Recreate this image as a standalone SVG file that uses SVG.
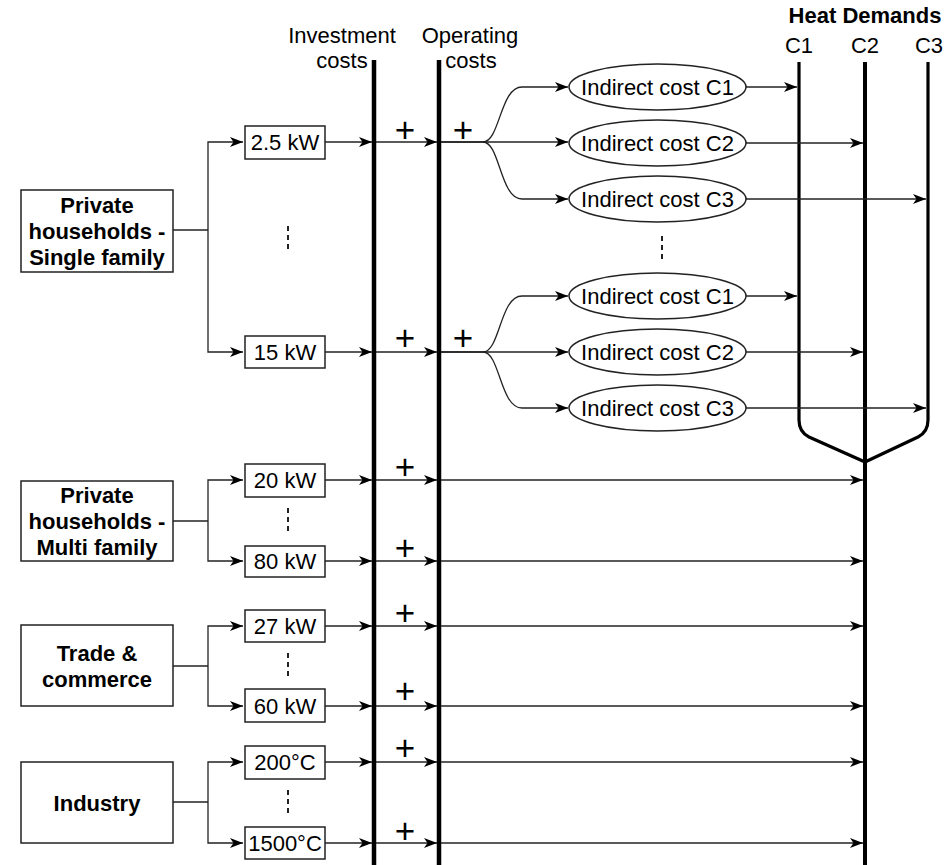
<svg xmlns="http://www.w3.org/2000/svg" width="948" height="865" viewBox="0 0 948 865">
<style>
text{font-family:"Liberation Sans",Arial,sans-serif;font-size:22px;fill:#000;text-anchor:middle}
.b{font-weight:bold}
.plus{font-size:35px}
.box{fill:#fff;stroke:#222;stroke-width:1.5}
.ell{fill:#fff;stroke:#222;stroke-width:1.5}
.c{fill:none;stroke:#222;stroke-width:1.3}
.bar{fill:none;stroke:#000;stroke-width:4.5}
.hbar{fill:none;stroke:#000;stroke-width:3.2;stroke-linejoin:round}
.dots{fill:none;stroke:#222;stroke-width:2;stroke-dasharray:5 4}
</style>
<defs>
<marker id="arr" markerWidth="13" markerHeight="10" refX="13" refY="5" orient="auto" markerUnits="userSpaceOnUse"><path d="M0,0 L13,5 L0,10 L3.5,5 z" fill="#000"/></marker>
</defs>

<g id="bars">
<line class="bar" x1="374" y1="60" x2="374" y2="865"/>
<line class="bar" x1="439" y1="60" x2="439" y2="865"/>
<path class="hbar" d="M799 62 L799 420 Q799 432 809 437 L865 462"/>
<path class="hbar" d="M928 62 L928 420 Q928 432 918 437 L865 462"/>
<line class="bar" x1="865" y1="62" x2="865" y2="865" style="stroke-width:4"/>
</g>

<g id="labels">
<text x="342" y="43">Investment</text>
<text x="342" y="68">costs</text>
<text x="470" y="43">Operating</text>
<text x="471" y="68">costs</text>
<text class="b" x="865" y="23">Heat Demands</text>
<text x="799" y="53">C1</text>
<text x="865" y="53">C2</text>
<text x="929" y="53">C3</text>
</g>

<g id="connectors">
<!-- single family -->
<path class="c" d="M173 230 L208 230"/>
<path class="c" d="M208 230 L208 142 L243 142" marker-end="url(#arr)"/>
<path class="c" d="M208 230 L208 352 L243 352" marker-end="url(#arr)"/>
<!-- multi family -->
<path class="c" d="M173 521 L208 521"/>
<path class="c" d="M208 521 L208 480 L243 480" marker-end="url(#arr)"/>
<path class="c" d="M208 521 L208 561 L243 561" marker-end="url(#arr)"/>
<!-- trade -->
<path class="c" d="M173 666 L208 666"/>
<path class="c" d="M208 666 L208 626 L243 626" marker-end="url(#arr)"/>
<path class="c" d="M208 666 L208 706 L243 706" marker-end="url(#arr)"/>
<!-- industry -->
<path class="c" d="M173 802 L208 802"/>
<path class="c" d="M208 802 L208 762 L243 762" marker-end="url(#arr)"/>
<path class="c" d="M208 802 L208 843 L243 843" marker-end="url(#arr)"/>

<!-- boxes to investment and operating -->
<path class="c" d="M325 142 L372 142" marker-end="url(#arr)"/>
<path class="c" d="M376 142 L437 142" marker-end="url(#arr)"/>
<path class="c" d="M325 352 L372 352" marker-end="url(#arr)"/>
<path class="c" d="M376 352 L437 352" marker-end="url(#arr)"/>
<path class="c" d="M325 480 L372 480" marker-end="url(#arr)"/>
<path class="c" d="M376 480 L437 480" marker-end="url(#arr)"/>
<path class="c" d="M325 561 L372 561" marker-end="url(#arr)"/>
<path class="c" d="M376 561 L437 561" marker-end="url(#arr)"/>
<path class="c" d="M325 626 L372 626" marker-end="url(#arr)"/>
<path class="c" d="M376 626 L437 626" marker-end="url(#arr)"/>
<path class="c" d="M325 706 L372 706" marker-end="url(#arr)"/>
<path class="c" d="M376 706 L437 706" marker-end="url(#arr)"/>
<path class="c" d="M325 762 L372 762" marker-end="url(#arr)"/>
<path class="c" d="M376 762 L437 762" marker-end="url(#arr)"/>
<path class="c" d="M325 843 L372 843" marker-end="url(#arr)"/>
<path class="c" d="M376 843 L437 843" marker-end="url(#arr)"/>

<!-- operating to C2 -->
<path class="c" d="M441 480 L863 480" marker-end="url(#arr)"/>
<path class="c" d="M441 561 L863 561" marker-end="url(#arr)"/>
<path class="c" d="M441 626 L863 626" marker-end="url(#arr)"/>
<path class="c" d="M441 706 L863 706" marker-end="url(#arr)"/>
<path class="c" d="M441 762 L863 762" marker-end="url(#arr)"/>
<path class="c" d="M441 843 L863 843" marker-end="url(#arr)"/>

<!-- top fan -->
<path class="c" d="M441 142 L483 142 C500 142 500 87 522 87 L568 87" marker-end="url(#arr)"/>
<path class="c" d="M441 142 L568 142" marker-end="url(#arr)"/>
<path class="c" d="M483 142 C500 142 500 199 522 199 L568 199" marker-end="url(#arr)"/>
<path class="c" d="M746 87 L797 87" marker-end="url(#arr)"/>
<path class="c" d="M746 143 L863 143" marker-end="url(#arr)"/>
<path class="c" d="M746 199 L926 199" marker-end="url(#arr)"/>
<!-- bottom fan -->
<path class="c" d="M441 352 L483 352 C500 352 500 296 522 296 L568 296" marker-end="url(#arr)"/>
<path class="c" d="M441 352 L568 352" marker-end="url(#arr)"/>
<path class="c" d="M483 352 C500 352 500 408 522 408 L568 408" marker-end="url(#arr)"/>
<path class="c" d="M746 296 L797 296" marker-end="url(#arr)"/>
<path class="c" d="M746 352 L863 352" marker-end="url(#arr)"/>
<path class="c" d="M746 408 L926 408" marker-end="url(#arr)"/>
</g>

<g id="plus">
<text class="plus" x="405" y="142">+</text>
<text class="plus" x="463" y="142">+</text>
<text class="plus" x="405" y="350">+</text>
<text class="plus" x="463" y="350">+</text>
<text class="plus" x="405" y="479">+</text>
<text class="plus" x="405" y="560">+</text>
<text class="plus" x="405" y="625">+</text>
<text class="plus" x="405" y="703">+</text>
<text class="plus" x="405" y="760">+</text>
<text class="plus" x="405" y="843">+</text>
</g>

<g id="dots">
<line class="dots" x1="288" y1="226" x2="288" y2="253"/>
<line class="dots" x1="662" y1="236" x2="662" y2="261"/>
<line class="dots" x1="288" y1="508" x2="288" y2="534"/>
<line class="dots" x1="288" y1="653" x2="288" y2="679"/>
<line class="dots" x1="288" y1="790" x2="288" y2="816"/>
</g>

<g id="single-family">
<rect class="box" x="21" y="190" width="152" height="82"/>
<text class="b" x="97" y="213">Private</text>
<text class="b" x="97" y="239">households -</text>
<text class="b" x="97" y="265">Single family</text>
</g>
<g id="multi-family">
<rect class="box" x="21" y="481" width="152" height="80"/>
<text class="b" x="97" y="503">Private</text>
<text class="b" x="97" y="529">households -</text>
<text class="b" x="97" y="555">Multi family</text>
</g>
<g id="trade">
<rect class="box" x="21" y="625" width="152" height="81"/>
<text class="b" x="97" y="661">Trade &amp;</text>
<text class="b" x="97" y="687">commerce</text>
</g>
<g id="industry">
<rect class="box" x="21" y="762" width="152" height="81"/>
<text class="b" x="97" y="811">Industry</text>
</g>

<g id="n-2-5kW"><rect class="box" x="245" y="126" width="80" height="33"/><text x="285" y="150">2.5 kW</text></g>
<g id="n-15kW"><rect class="box" x="245" y="336" width="80" height="32"/><text x="285" y="360">15 kW</text></g>
<g id="n-20kW"><rect class="box" x="245" y="464" width="80" height="33"/><text x="285" y="488">20 kW</text></g>
<g id="n-80kW"><rect class="box" x="245" y="546" width="80" height="31"/><text x="285" y="569">80 kW</text></g>
<g id="n-27kW"><rect class="box" x="245" y="610" width="80" height="32"/><text x="285" y="634">27 kW</text></g>
<g id="n-60kW"><rect class="box" x="245" y="689" width="80" height="33"/><text x="285" y="714">60 kW</text></g>
<g id="n-200C"><rect class="box" x="245" y="746" width="80" height="33"/><text x="285" y="770">200°C</text></g>
<g id="n-1500C"><rect class="box" x="245" y="827" width="80" height="32"/><text x="285" y="851">1500°C</text></g>

<g id="e-top-c1"><ellipse class="ell" cx="657.5" cy="87" rx="88.5" ry="23"/><text x="657.5" y="95">Indirect cost C1</text></g>
<g id="e-top-c2"><ellipse class="ell" cx="657.5" cy="143" rx="88.5" ry="23"/><text x="657.5" y="151">Indirect cost C2</text></g>
<g id="e-top-c3"><ellipse class="ell" cx="657.5" cy="199" rx="88.5" ry="23"/><text x="657.5" y="207">Indirect cost C3</text></g>
<g id="e-bot-c1"><ellipse class="ell" cx="657.5" cy="296" rx="88.5" ry="23"/><text x="657.5" y="304">Indirect cost C1</text></g>
<g id="e-bot-c2"><ellipse class="ell" cx="657.5" cy="352" rx="88.5" ry="23"/><text x="657.5" y="360">Indirect cost C2</text></g>
<g id="e-bot-c3"><ellipse class="ell" cx="657.5" cy="408" rx="88.5" ry="23"/><text x="657.5" y="416">Indirect cost C3</text></g>
</svg>
